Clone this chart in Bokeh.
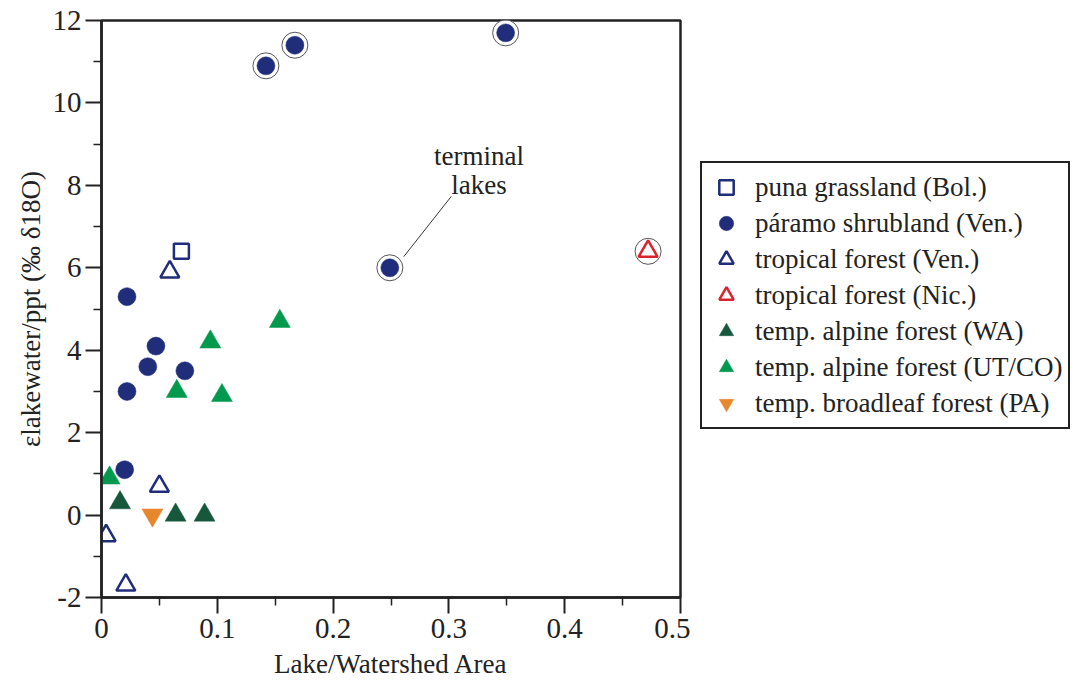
from bokeh.plotting import figure
from bokeh.layouts import row
from bokeh.models import Range1d, FixedTicker, Legend, LegendItem, Label
from bokeh.embed import file_html
from bokeh.resources import INLINE

# ---- data ----
puna_x = [0.069]
puna_y = [6.4]

paramo_x = [0.142, 0.167, 0.349, 0.249, 0.022, 0.047, 0.040, 0.072, 0.022, 0.020]
paramo_y = [10.9, 11.4, 11.7, 6.0, 5.3, 4.1, 3.6, 3.5, 3.0, 1.1]
paramo_terminal = [True, True, True, True, False, False, False, False, False, False]

tropven_x = [0.059, 0.050, 0.004, 0.021]
tropven_y = [5.9, 0.7, -0.5, -1.7]

tropnic_x = [0.472]
tropnic_y = [6.4]
tropnic_terminal = [True]

wa_x = [0.016, 0.064, 0.089]
wa_y = [0.3, 0.0, 0.0]

utco_x = [0.007, 0.065, 0.094, 0.104, 0.154]
utco_y = [0.9, 3.0, 4.2, 2.9, 4.7]

pa_x = [0.044]
pa_y = [0.0]

x_ticks = [0, 0.1, 0.2, 0.3, 0.4, 0.5]
x_tick_labels = ["0", "0.1", "0.2", "0.3", "0.4", "0.5"]
x_minor = [0.05, 0.15, 0.25, 0.35, 0.45]
y_ticks = [-2, 0, 2, 4, 6, 8, 10, 12]
y_tick_labels = ["-2", "0", "2", "4", "6", "8", "10", "12"]
y_minor = [-1, 1, 3, 5, 7, 9, 11]

labels = [
    "puna grassland (Bol.)",
    "páramo shrubland (Ven.)",
    "tropical forest (Ven.)",
    "tropical forest (Nic.)",
    "temp. alpine forest (WA)",
    "temp. alpine forest (UT/CO)",
    "temp. broadleaf forest (PA)",
]

FONT = "Liberation Serif"
INK = "#222222"
NAVY = "#1f2d7b"
RED = "#d9232e"
DKGREEN = "#17573c"
GREEN = "#00994e"
ORANGE = "#e8862c"

styles = [
    dict(marker="square", size=15, fill_color=None, line_color=NAVY, line_width=2.5),
    dict(marker="circle", size=18, fill_color=NAVY, line_color=NAVY, line_width=0.5),
    dict(marker="triangle", size=19, fill_color=None, line_color=NAVY, line_width=2.5),
    dict(marker="triangle", size=19, fill_color=None, line_color=RED, line_width=2.5),
    dict(marker="triangle", size=21, fill_color=DKGREEN, line_color=DKGREEN, line_width=0.5),
    dict(marker="triangle", size=21, fill_color=GREEN, line_color=GREEN, line_width=0.5),
    dict(marker="inverted_triangle", size=21, fill_color=ORANGE, line_color=ORANGE, line_width=0.5),
]
series = [
    (puna_x, puna_y), (paramo_x, paramo_y), (tropven_x, tropven_y),
    (tropnic_x, tropnic_y), (wa_x, wa_y), (utco_x, utco_y), (pa_x, pa_y),
]

p = figure(width=690, height=686,
           x_range=Range1d(0, 0.5), y_range=Range1d(-2, 12),
           output_backend="svg", toolbar_location=None,
           min_border_left=101, min_border_right=10,
           min_border_top=20, min_border_bottom=89)

p.grid.visible = False
p.outline_line_color = INK
p.outline_line_width = 2.5
p.outline_line_alpha = 1
p.background_fill_color = "white"
p.border_fill_color = "white"

p.xaxis.ticker = FixedTicker(ticks=x_ticks, minor_ticks=x_minor)
p.yaxis.ticker = FixedTicker(ticks=y_ticks, minor_ticks=y_minor)
p.xaxis.major_label_overrides = dict(zip(x_ticks, x_tick_labels))
p.yaxis.major_label_overrides = dict(zip(y_ticks, y_tick_labels))

for ax in (p.xaxis, p.yaxis):
    ax.axis_line_color = INK
    ax.axis_line_width = 2.5
    ax.major_tick_line_color = INK
    ax.major_tick_line_width = 2
    ax.minor_tick_line_color = INK
    ax.minor_tick_line_width = 1.5
    ax.major_tick_in = 0
    ax.minor_tick_in = 0
    ax.major_tick_out = 16
    ax.minor_tick_out = 8
    ax.major_label_text_font = FONT
    ax.major_label_text_font_size = "29px"
    ax.major_label_text_color = INK
    ax.axis_label_text_font = FONT
    ax.axis_label_text_font_style = "normal"
    ax.axis_label_text_color = INK

p.xaxis.axis_label = "Lake/Watershed Area"
p.xaxis.axis_label_text_font_size = "27px"
p.xaxis.major_label_standoff = 5
p.xaxis.axis_label_standoff = 8

p.yaxis.axis_label = "εlakewater/ppt (‰ δ18O)"
p.yaxis.axis_label_text_font_size = "27px"
p.yaxis.major_label_standoff = 4
p.yaxis.axis_label_standoff = 4

# rings around terminal lakes
ring_x = [x for x, t in zip(paramo_x, paramo_terminal) if t] + \
         [x for x, t in zip(tropnic_x, tropnic_terminal) if t]
ring_y = [y for y, t in zip(paramo_y, paramo_terminal) if t] + \
         [y for y, t in zip(tropnic_y, tropnic_terminal) if t]
p.scatter(ring_x, ring_y, marker="circle", size=26, fill_color="white",
          line_color="#555555", line_width=1)

for (xs, ys), st in zip(series, styles):
    p.scatter(xs, ys, **st)

# annotation "terminal lakes"
note_x = 0.326
note_y1 = 8.72
note_y2 = 8.0
leader_x = [0.302, 0.261]
leader_y = [7.73, 6.27]
p.line(leader_x, leader_y, line_color="#333333", line_width=1)
for yy, tt in ((note_y1, "terminal"), (note_y2, "lakes")):
    p.add_layout(Label(x=note_x, y=yy, text=tt, text_align="center",
                       text_baseline="middle", text_font=FONT,
                       text_font_size="27px", text_color=INK))

# legend panel (separate figure to the right; its data lie outside its view)
q = figure(width=384, height=686, x_range=Range1d(10, 11), y_range=Range1d(10, 11),
           output_backend="svg", toolbar_location=None,
           min_border_left=0, min_border_right=0, min_border_top=0, min_border_bottom=0)
q.axis.visible = False
q.grid.visible = False
q.outline_line_color = None
q.background_fill_color = "white"
q.border_fill_color = "white"

leg_renderers = [q.scatter(xs, ys, **st) for (xs, ys), st in zip(series, styles)]
legend = Legend(items=[LegendItem(label=l, renderers=[r]) for l, r in zip(labels, leg_renderers)],
                location=(10, 168), margin=0, padding=6, spacing=0,
                glyph_width=36, glyph_height=36, label_standoff=11,
                label_text_font=FONT, label_text_font_size="27px",
                label_text_color=INK,
                border_line_color=INK, border_line_width=2, border_line_alpha=1,
                background_fill_color="white", background_fill_alpha=1)
q.add_layout(legend, "center")

layout = row(p, q, spacing=0)
open("out.html", "w").write(file_html(layout, INLINE))
